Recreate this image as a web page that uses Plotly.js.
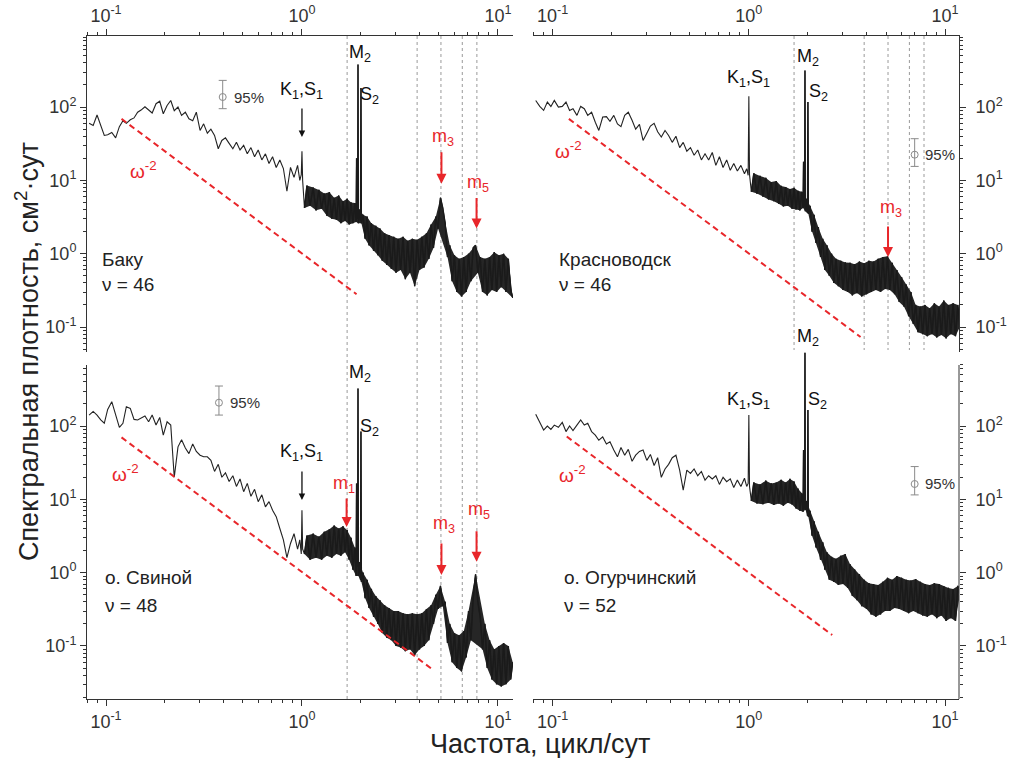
<!DOCTYPE html>
<html>
<head>
<meta charset="utf-8">
<script src="https://cdn.plot.ly/plotly-3.0.1.min.js"></script>
<style>
html,body{margin:0;padding:0;background:#fff;}
#chart{width:1009px;height:758px;}
</style>
</head>
<body>
<div id="chart"></div>
<script>
// Frequency grid, cycles per day
const freq = [
0.082,0.086,0.09,0.094,0.098,0.102,0.107,0.112,0.117,0.122,0.127,0.133,0.139,0.145,0.151,0.158,0.165,0.172,0.18,0.188,
0.196,0.205,0.214,0.223,0.233,0.243,0.254,0.265,0.277,0.289,0.302,0.315,0.329,0.343,0.358,0.374,0.39,0.407,0.425,0.444,
0.463,0.483,0.504,0.526,0.549,0.573,0.598,0.624,0.651,0.679,0.708,0.739,0.771,0.804,0.838,0.874,0.911,0.95,0.975,0.992,
1.0,1.008,1.03,1.06,1.1,1.14,1.18,1.22,1.26,1.3,1.34,1.38,1.42,1.46,1.5,1.54,1.58,1.62,1.66,1.7,
1.74,1.78,1.82,1.86,1.89,1.9,1.91,1.925,1.932,1.94,1.965,1.99,2.0,2.01,2.05,2.1,2.15,2.2,2.26,2.32,
2.38,2.44,2.5,2.57,2.64,2.71,2.78,2.86,2.94,3.02,3.1,3.19,3.28,3.37,3.46,3.56,3.66,3.76,3.87,3.98,
4.09,4.2,4.32,4.44,4.56,4.69,4.82,4.95,5.09,5.23,5.38,5.53,5.68,5.84,6.0,6.17,6.34,6.52,6.7,6.89,
7.08,7.28,7.48,7.69,7.9,8.12,8.35,8.58,8.82,9.07,9.32,9.58,9.85,10.12,10.4,10.69,10.99,11.3,11.62,11.9
];

// Spectral density, cm^2 * day
const psdBaku = [
60,56,78,55,41,42,45,38,54,65,60,67,71,85,91,101,90,83,111,120,
81,105,123,89,100,77,85,69,65,85,48,59,44,50,41,27,35,38,32,27,
33,26,30,23,28,21,26,19,23,17,21,15,19,14.5,7.1,15,11,16,10,12,
25,10,4.2,8.5,4.5,8.0,3.9,7.4,4.1,6.6,3.3,6.9,3.0,5.8,2.9,6.2,2.6,5.2,2.8,5.6,
2.5,5.0,2.6,4.9,2.7,20,3.0,4.2,380,2.6,4.0,2.8,182,2.6,3.4,1.6,3.2,1.3,2.6,1.1,
2.4,0.95,2.2,0.8,1.9,0.7,1.8,0.62,1.7,0.55,1.6,0.6,1.7,0.45,1.5,0.55,1.6,0.36,1.55,0.6,
1.7,0.65,1.9,0.85,2.5,1.2,3.2,2.2,5.8,4.2,2.6,0.9,1.3,0.42,0.95,0.3,0.85,0.26,0.9,0.3,
1.0,0.42,1.2,1.3,0.55,0.9,0.3,0.85,0.27,0.9,0.32,1.05,0.3,0.95,0.35,1.0,0.3,0.85,0.32,0.25
];
const psdKrasnovodsk = [
123,102,90,117,102,123,100,102,117,90,95,77,102,95,77,85,62,48,73,74,
64,77,59,54,77,85,66,50,58,35,44,55,60,46,39,48,41,33,40,28,
33,25,28,22,26,19,23,19,24,16,21,15,19,13.7,17,13.4,16,12.3,14.4,11.7,
140,12,7.0,12.5,6.6,11.5,6.0,10.8,5.5,9.5,5.2,9.8,4.8,8.4,4.4,8.1,4.5,7.6,4.1,7.9,
4.0,7.2,3.9,7.0,4.2,18,4.4,6.0,316,3.8,5.6,3.6,117,3.5,4.5,2.0,3.4,1.4,2.3,0.9,
1.6,0.6,1.3,0.5,1.0,0.4,0.85,0.36,0.8,0.32,0.76,0.3,0.75,0.27,0.72,0.29,0.78,0.26,0.74,0.28,
0.8,0.3,0.78,0.32,0.85,0.3,0.9,0.33,0.92,0.32,0.75,0.28,0.6,0.22,0.48,0.19,0.38,0.14,0.3,0.11,
0.2,0.085,0.19,0.08,0.2,0.075,0.18,0.08,0.21,0.072,0.19,0.078,0.23,0.07,0.2,0.08,0.21,0.075,0.2,0.1
];
const psdSvinoy = [
141,158,141,121,109,168,215,141,96,109,183,174,123,121,127,137,114,141,103,131,
75,114,103,20,52,65,50,42,57,45,40,38,38,34,24,30,20,23,17.5,21,
15,19,12.7,16.5,11,13.7,9.3,11.5,7.9,9.3,7.1,5.8,4.0,2.8,1.6,2.5,3.4,2.1,2.8,1.8,
7.1,2.1,1.8,3.2,1.5,3.4,1.6,3.1,1.5,3.6,1.7,3.9,1.6,4.4,1.8,4.0,1.7,4.3,1.9,3.8,
1.5,3.0,1.1,2.2,0.9,16.5,1.2,1.6,325,0.9,1.4,0.8,84,0.75,1.0,0.45,0.8,0.33,0.6,0.25,
0.48,0.2,0.42,0.15,0.36,0.13,0.33,0.12,0.3,0.1,0.3,0.095,0.28,0.085,0.27,0.09,0.28,0.075,0.27,0.09,
0.28,0.1,0.32,0.12,0.36,0.2,0.5,0.32,0.66,0.35,0.4,0.11,0.2,0.06,0.15,0.05,0.14,0.045,0.16,0.07,
0.3,0.12,0.45,0.95,0.4,0.25,0.09,0.2,0.05,0.12,0.035,0.09,0.03,0.1,0.028,0.11,0.03,0.1,0.035,0.06
];
const psdOgurchinsky = [
145,114,88,100,90,103,96,112,84,100,87,103,121,103,109,84,75,64,71,57,
61,47,38,51,40,48,33,40,45,47,34,41,29,37,20,26,30,37,40,25,
13.4,25,22.6,26,21,24,18.3,21,19,21,16,20,17.4,19,14.5,18.3,15,19.4,15,16.5,
141,15,9.5,17,8.8,16,8.6,18,9.0,16.5,8.4,17,8.8,18.5,8.2,17,9.0,19,8.5,17.5,
7.5,14,7.0,12,6.8,47,7.5,11,1000,7.2,9.5,6.0,166,5.8,7.0,3.2,5.0,2.2,3.6,1.5,
2.6,1.1,1.9,0.8,1.65,0.75,1.55,0.68,1.7,0.7,1.8,0.62,1.3,0.48,1.1,0.42,0.95,0.35,0.8,0.32,
0.72,0.27,0.7,0.25,0.68,0.27,0.75,0.3,0.85,0.3,0.8,0.33,0.9,0.32,0.85,0.3,0.8,0.28,0.78,0.3,
0.82,0.28,0.75,0.26,0.7,0.25,0.68,0.27,0.72,0.24,0.7,0.26,0.65,0.22,0.62,0.24,0.6,0.22,0.66,0.5
];

const stations = ['Баку', 'Красноводск', 'о. Свиной', 'о. Огурчинский'];
const dof = [46, 46, 48, 52];

// omega^-2 reference lines (two end points each)
const slopeFreq = [[0.12, 1.9], [0.121, 3.71], [0.12, 4.68], [0.118, 2.66]];
const slopePsd = [[69, 0.28], [69, 0.073], [70, 0.047], [72, 0.141]];

// 95% confidence intervals
const ciFreq = [0.394, 7.0, 0.377, 7.0];
const ciMid = [137, 22.4, 208, 16.2];
const ciHigh = [231, 37, 351, 28];
const ciLow = [95, 15.5, 141, 11.5];

// seiche modes (dotted lines), cycles per day
const seicheModes = [1.70, 3.87, 5.12, 6.58, 7.81];

// tidal lines (K1, N2, M2, S2): narrow spikes, kept out of the noise band
const tidalFreq = [1.0, 1.9, 1.932, 2.0];
// frequency above which the spectrum is densely sampled (drawn as a dark band)
const denseFrom = 1.02;

const xTickVals = [0.1, 1, 10];
const xTickText = ['10<sup>-1</sup>', '10<sup>0</sup>', '10<sup>1</sup>'];
const yTickVals = [0.1, 1, 10, 100];
const yTickText = ['10<sup>-1</sup>', '10<sup>0</sup>', '10<sup>1</sup>', '10<sup>2</sup>'];
const xMinorTicks = [0.08,0.09,0.2,0.3,0.4,0.5,0.6,0.7,0.8,0.9,2,3,4,5,6,7,8,9];
const yMinorTicks = [0.02,0.03,0.04,0.05,0.06,0.07,0.08,0.09,0.2,0.3,0.4,0.5,0.6,0.7,0.8,0.9,
  2,3,4,5,6,7,8,9,20,30,40,50,60,70,80,90,200,300,400,500,600,700,800,900];

const FONT = 'Liberation Sans, Arial, Helvetica, sans-serif';
const INK = '#222222';
const AX = '#333333';
const RED = '#e8262a';
const GREY = '#8a8a8a';

const psdSeries = [psdBaku, psdKrasnovodsk, psdSvinoy, psdOgurchinsky];
const refs = [['x','y'],['x2','y2'],['x3','y3'],['x4','y4']];

// outline of the dense part of a spectrum: its local maxima above, its local minima below
function noiseBand(psd) {
  const ux = [], uy = [], lx = [], ly = [];
  const idx = [];
  freq.forEach((f, k) => { if (f >= denseFrom && !tidalFreq.includes(f)) idx.push(k); });
  idx.forEach((k, j) => {
    const prev = j > 0 ? psd[idx[j-1]] : psd[k];
    const next = j < idx.length - 1 ? psd[idx[j+1]] : psd[k];
    const edge = j === 0 || j === idx.length - 1;
    if (edge || (psd[k] >= prev && psd[k] >= next)) { ux.push(freq[k]); uy.push(psd[k]); }
    if (edge || (psd[k] <= prev && psd[k] <= next)) { lx.push(freq[k]); ly.push(psd[k]); }
  });
  return {x: ux.concat(lx.slice().reverse()), y: uy.concat(ly.slice().reverse())};
}

const traces = [];
psdSeries.forEach((psd, i) => {
  const [xr, yr] = refs[i];
  const band = noiseBand(psd);
  traces.push({
    type: 'scatter', mode: 'lines', x: band.x, y: band.y, xaxis: xr, yaxis: yr,
    fill: 'toself', fillcolor: '#262626', line: {width: 0},
    hoverinfo: 'skip', showlegend: false
  });
  traces.push({
    type: 'scatter', mode: 'lines', x: freq, y: psd, xaxis: xr, yaxis: yr,
    line: {color: INK, width: 1.1}, hoverinfo: 'skip', showlegend: false
  });
  const dx = [], dy = [];
  freq.forEach((f, k) => { if (f >= denseFrom) { dx.push(f); dy.push(psd[k]); } });
  traces.push({
    type: 'scatter', mode: 'lines', x: dx, y: dy, xaxis: xr, yaxis: yr,
    line: {color: '#1a1a1a', width: 1.4}, hoverinfo: 'skip', showlegend: false
  });
  traces.push({
    type: 'scatter', mode: 'lines', x: slopeFreq[i], y: slopePsd[i], xaxis: xr, yaxis: yr,
    line: {color: RED, width: 2, dash: '6px,4px'}, hoverinfo: 'skip', showlegend: false
  });
  traces.push({
    type: 'scatter', mode: 'markers', x: [ciFreq[i]], y: [ciMid[i]], xaxis: xr, yaxis: yr,
    marker: {symbol: 'circle-open', size: 7, color: GREY, line: {width: 1, color: GREY}},
    error_y: {type: 'data', symmetric: false, array: [ciHigh[i] - ciMid[i]], arrayminus: [ciMid[i] - ciLow[i]],
      color: GREY, thickness: 1, width: 4},
    hoverinfo: 'skip', showlegend: false
  });
});

function xAxis(domain, range, side, anchor) {
  return {
    type: 'log', domain: domain, range: range, side: side, anchor: anchor,
    showline: true, linecolor: AX, linewidth: 1, mirror: false,
    ticks: 'outside', ticklen: 6, tickwidth: 1, tickcolor: AX,
    tickmode: 'array', tickvals: xTickVals, ticktext: xTickText,
    tickfont: {family: FONT, size: 18, color: '#333'},
    minor: {tickmode: 'array', tickvals: xMinorTicks, ticks: 'outside', ticklen: 3, tickwidth: 1, tickcolor: AX, showgrid: false},
    showgrid: false, zeroline: false, fixedrange: true
  };
}
function yAxis(domain, range, side, anchor, minorVals, showline) {
  return {
    type: 'log', domain: domain, range: range, side: side, anchor: anchor,
    showline: showline, linecolor: AX, linewidth: 1, mirror: false,
    ticks: 'outside', ticklen: 6, tickwidth: 1, tickcolor: AX,
    tickmode: 'array', tickvals: yTickVals, ticktext: yTickText,
    tickfont: {family: FONT, size: 18, color: '#333'},
    ticklabelstandoff: side === 'right' ? 6 : 0,
    minor: {tickmode: 'array', tickvals: minorVals, ticks: 'outside', ticklen: 3, tickwidth: 1, tickcolor: AX, showgrid: false},
    showgrid: false, zeroline: false, fixedrange: true
  };
}

const L = [87/1009, 513/1009];
const R = [533/1009, 959/1009];
const TOP = [1 - 352/758, 1 - 36/758];
const BOT = [1 - 699/758, 1 - 365/758];
const BOT4 = [1 - 699/758, 1 - 350/758];

const shapes = [];
seicheModes.forEach(f => {
  ['x', 'x2'].forEach(xr => {
    shapes.push({type: 'line', xref: xr, yref: 'paper', x0: f, x1: f, y0: BOT[0], y1: TOP[1],
      line: {color: '#9a9a9a', width: 1, dash: 'dot'}, layer: 'below'});
  });
});
// right axis line of the lower-right panel (its range is extended upward for the M2 spike)
shapes.push({type: 'line', xref: 'paper', yref: 'paper', x0: R[1], x1: R[1], y0: BOT[0], y1: BOT[1],
  line: {color: AX, width: 1}});

const annotations = [];
const lg = Math.log10;
function label(i, f, p, text, color, size, extra) {
  const [xr, yr] = refs[i];
  annotations.push(Object.assign({xref: xr, yref: yr, x: lg(f), y: lg(p), text: text, showarrow: false,
    xanchor: 'center', yanchor: 'middle', font: {family: FONT, size: size, color: color}}, extra || {}));
}
function arrow(i, f, p, len, color, width) {
  const [xr, yr] = refs[i];
  annotations.push({xref: xr, yref: yr, x: lg(f), y: lg(p), text: '', showarrow: true,
    ax: 0, ay: -len, arrowhead: 2, arrowsize: 1, arrowwidth: width, arrowcolor: color, standoff: 0});
}
const K1S1 = 'K<sub>1</sub>,S<sub>1</sub>';
const M2 = 'M<sub>2</sub>';
const S2 = 'S<sub>2</sub>';
const OMEGA = 'ω<sup>-2</sup>';

// Баку
label(0, 1.98, 535, M2, '#111', 18);
label(0, 2.22, 145, S2, '#111', 18);
label(0, 1.0, 170, K1S1, '#111', 18);
arrow(0, 1.0, 39, 30, '#111', 1.3);
label(0, 5.26, 39, 'm<sub>3</sub>', RED, 18);
arrow(0, 5.15, 9, 33, RED, 2);
label(0, 7.94, 9, 'm<sub>5</sub>', RED, 18);
arrow(0, 7.78, 2.2, 32, RED, 2);
label(0, 0.155, 14, OMEGA, RED, 19);
label(0, 0.438, 137, '95%', '#333', 15, {xanchor: 'left'});
// Красноводск
label(1, 2.0, 470, M2, '#111', 18);
label(1, 2.27, 160, S2, '#111', 18);
label(1, 1.0, 244, K1S1, '#111', 18);
label(1, 5.32, 4.1, 'm<sub>3</sub>', RED, 18);
arrow(1, 5.12, 0.9, 32, RED, 2);
label(1, 0.12, 26, OMEGA, RED, 19);
label(1, 7.75, 22.4, '95%', '#333', 15, {xanchor: 'left'});
// о. Свиной
label(2, 1.98, 525, M2, '#111', 18);
label(2, 2.22, 96, S2, '#111', 18);
label(2, 1.0, 44, K1S1, '#111', 18);
arrow(2, 1.0, 9.8, 30, '#111', 1.3);
label(2, 1.63, 16, 'm<sub>1</sub>', RED, 18);
arrow(2, 1.69, 4.2, 30, RED, 2);
label(2, 5.3, 4.6, 'm<sub>3</sub>', RED, 18);
arrow(2, 5.15, 0.93, 33, RED, 2);
label(2, 8.0, 7.0, 'm<sub>5</sub>', RED, 18);
arrow(2, 7.78, 1.41, 32, RED, 2);
label(2, 0.126, 23, OMEGA, RED, 19);
label(2, 0.421, 208, '95%', '#333', 15, {xanchor: 'left'});
// о. Огурчинский
annotations.push({xref: 'x4', yref: 'paper', x: lg(2.0), y: 1 - 338/758, text: M2, showarrow: false,
  xanchor: 'center', yanchor: 'middle', font: {family: FONT, size: 18, color: '#111'}});
label(3, 2.23, 221, S2, '#111', 18);
label(3, 1.0, 221, K1S1, '#111', 18);
label(3, 0.127, 22, OMEGA, RED, 19);
label(3, 7.75, 16.2, '95%', '#333', 15, {xanchor: 'left'});

// station names and degrees of freedom
const namePos = [[100, 259, 285], [557, 259, 285], [103, 577, 605], [562, 577, 605]];
stations.forEach((name, i) => {
  const [px, py1, py2] = namePos[i];
  annotations.push({xref: 'paper', yref: 'paper', x: px/1009, y: 1 - py1/758, text: name, showarrow: false,
    xanchor: 'left', yanchor: 'middle', font: {family: FONT, size: 19, color: '#222'}});
  annotations.push({xref: 'paper', yref: 'paper', x: px/1009, y: 1 - py2/758, text: 'ν = ' + dof[i], showarrow: false,
    xanchor: 'left', yanchor: 'middle', font: {family: FONT, size: 19, color: '#222'}});
});

// axis titles
annotations.push({xref: 'paper', yref: 'paper', x: 27/1009, y: 1 - 352/758, textangle: -90,
  text: 'Спектральная плотность, см<sup>2</sup>·сут', showarrow: false, xanchor: 'center', yanchor: 'middle',
  font: {family: FONT, size: 27, color: '#222'}});
annotations.push({xref: 'paper', yref: 'paper', x: 540/1009, y: 1 - 744/758,
  text: 'Частота, цикл/сут', showarrow: false, xanchor: 'center', yanchor: 'middle',
  font: {family: FONT, size: 27, color: '#222'}});

const layout = {
  width: 1009, height: 758,
  margin: {l: 0, r: 0, t: 0, b: 0, pad: 0},
  paper_bgcolor: '#ffffff', plot_bgcolor: '#ffffff',
  showlegend: false,
  font: {family: FONT, color: '#222'},
  xaxis: xAxis(L, [-1.097, 1.077], 'top', 'y'),
  yaxis: yAxis(TOP, [-1.341, 2.969], 'left', 'x', yMinorTicks, true),
  xaxis2: xAxis(R, [-1.10, 1.071], 'top', 'y2'),
  yaxis2: yAxis(TOP, [-1.341, 2.969], 'right', 'x2', yMinorTicks, true),
  xaxis3: xAxis(L, [-1.097, 1.077], 'bottom', 'y3'),
  yaxis3: yAxis(BOT, [-1.723, 2.832], 'left', 'x3', yMinorTicks, true),
  xaxis4: xAxis(R, [-1.10, 1.071], 'bottom', 'y4'),
  yaxis4: yAxis(BOT4, [-1.723, 3.037], 'right', 'x4', yMinorTicks.filter(v => v <= 700), false),
  shapes: shapes,
  annotations: annotations
};

Plotly.newPlot('chart', traces, layout, {displayModeBar: false, staticPlot: true});
</script>
</body>
</html>
